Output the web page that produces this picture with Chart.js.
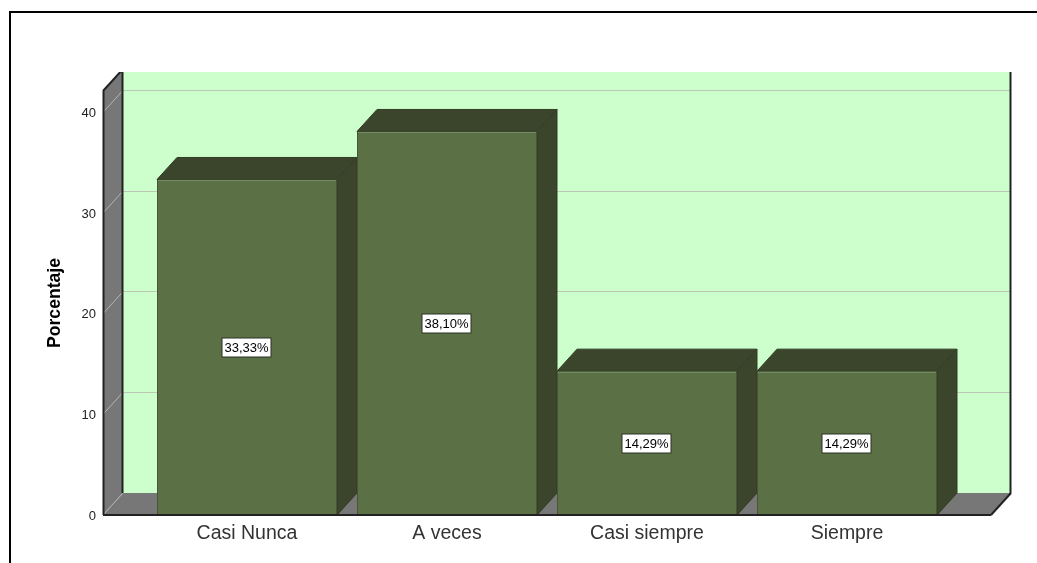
<!DOCTYPE html>
<html>
<head>
<meta charset="utf-8">
<style>html,body{margin:0;padding:0;background:#fff;overflow:hidden}canvas{display:block}</style>
<script src="https://cdn.jsdelivr.net/npm/chart.js@4"></script>
</head>
<body>
<canvas id="c" width="1037" height="563"></canvas>
<script>
const categories = ['Casi Nunca', 'A veces', 'Casi siempre', 'Siempre'];
const percentages = [33.33, 38.10, 14.29, 14.29];
const yTicks = [0, 10, 20, 30, 40];
const yAxisTitle = 'Porcentaje';

const FRONT = '#5c7046', DARK = '#3a452b', WALL = '#777777', BACK = '#ccffcc',
      GRID = '#bcc8b6', LINE = '#222222';
const DX = 20, DY = 22, PADX = 44, TOPCLIP = 72;
const FONT = '"Liberation Sans", Arial, sans-serif';

function poly(ctx, pts, fill, stroke, lw) {
  ctx.beginPath();
  pts.forEach((p, i) => i ? ctx.lineTo(p[0], p[1]) : ctx.moveTo(p[0], p[1]));
  ctx.closePath();
  if (fill) { ctx.fillStyle = fill; ctx.fill(); }
  if (stroke) { ctx.strokeStyle = stroke; ctx.lineWidth = lw || 1; ctx.stroke(); }
}
function seg(ctx, x1, y1, x2, y2, c, w) {
  ctx.beginPath(); ctx.moveTo(x1, y1); ctx.lineTo(x2, y2);
  ctx.strokeStyle = c; ctx.lineWidth = w; ctx.stroke();
}

const scene3d = {
  id: 'scene3d',
  beforeDraw(chart) {
    const ctx = chart.ctx;
    ctx.save();
    ctx.fillStyle = '#000';
    ctx.fillRect(9, 11, chart.width - 9, 2);
    ctx.fillRect(9, 11, 2, chart.height - 11);
    ctx.restore();
  },
  beforeDatasetsDraw(chart) {
    const ctx = chart.ctx, y = chart.scales.y, a = chart.chartArea;
    const L = a.left - PADX, R = a.right + PADX, B = y.getPixelForValue(0), T = a.top;
    ctx.save();
    ctx.beginPath(); ctx.rect(0, TOPCLIP, chart.width, chart.height - TOPCLIP); ctx.clip();
    ctx.fillStyle = BACK;
    ctx.fillRect(L + DX, T - DY, R - L, B - T);
    poly(ctx, [[L, B], [L + DX, B - DY], [R + DX, B - DY], [R, B]], WALL);
    poly(ctx, [[L, B], [L, T], [L + DX, T - DY], [L + DX, B - DY]], WALL);
    yTicks.forEach(v => {
      const py = y.getPixelForValue(v);
      const gy = Math.floor(py - DY) + 0.5;
      if (v > 0) seg(ctx, L + DX, gy, R + DX, gy, GRID, 1);
      seg(ctx, L, py, L + DX, py - DY, '#b5b5b5', 1);
    });
    seg(ctx, L + 0.5, T, L + 0.5, B, LINE, 2);
    seg(ctx, L, T, L + DX, T - DY, LINE, 2);
    seg(ctx, L + DX - 0.5, T - DY, L + DX - 0.5, B - DY, LINE, 2);
    seg(ctx, R + DX - 0.5, T - DY, R + DX - 0.5, B - DY, LINE, 2);
    seg(ctx, R, B, R + DX, B - DY, LINE, 2);
    chart.getDatasetMeta(0).data.forEach(bar => {
      const l = bar.x - bar.width / 2, r = bar.x + bar.width / 2, t = bar.y, b = bar.base;
      poly(ctx, [[l, t], [l + DX, t - DY], [r + DX, t - DY], [r, t]], DARK, '#333c26', 1);
      poly(ctx, [[r, t], [r + DX, t - DY], [r + DX, b - DY], [r, b]], DARK, '#333c26', 1);
    });
    ctx.restore();
  },
  afterDatasetsDraw(chart) {
    const ctx = chart.ctx, y = chart.scales.y, a = chart.chartArea;
    const B = y.getPixelForValue(0);
    ctx.save();
    seg(ctx, a.left - PADX, B, a.right + PADX, B, LINE, 2);
    ctx.font = '13px ' + FONT;
    ctx.textAlign = 'center';
    ctx.textBaseline = 'middle';
    chart.getDatasetMeta(0).data.forEach((bar, i) => {
      const txt = percentages[i].toFixed(2).replace('.', ',') + '%';
      const cy = Math.round((bar.y + bar.base) / 2) + 0.5, cx = Math.round(bar.x) - 0.5;
      const w = 49, h = 19;
      ctx.fillStyle = '#fff';
      ctx.fillRect(cx - w / 2, cy - h / 2, w, h);
      ctx.strokeStyle = '#2a3020'; ctx.lineWidth = 1;
      ctx.strokeRect(cx - w / 2, cy - h / 2, w, h);
      ctx.fillStyle = '#000';
      ctx.fillText(txt, cx, cy + 0.5);
    });
    ctx.restore();
  }
};

new Chart(document.getElementById('c'), {
  type: 'bar',
  data: {
    labels: categories,
    datasets: [{
      data: percentages,
      backgroundColor: FRONT,
      borderColor: '#46553a',
      borderWidth: 1,
      categoryPercentage: 1,
      barPercentage: 0.9
    }]
  },
  plugins: [scene3d],
  options: {
    responsive: false,
    animation: false,
    layout: { padding: { left: 0, right: 90, top: 91, bottom: 0 } },
    plugins: { legend: { display: false }, tooltip: { enabled: false }, title: { display: false } },
    scales: {
      x: {
        grid: { display: false, drawTicks: false },
        border: { display: false },
        afterFit(s) { s.height = 48; },
        ticks: { color: '#333', padding: 7, maxRotation: 0, font: { family: FONT, size: 19.5 } }
      },
      y: {
        min: 0,
        max: 42.12,
        grid: { display: false, drawTicks: false },
        border: { display: false },
        afterFit(s) { s.width = 147; s.paddingTop = 0; s.paddingBottom = 0; },
        afterBuildTicks(s) { s.ticks = yTicks.map(v => ({ value: v })); },
        ticks: { color: '#222', padding: 51, labelOffset: 1, font: { family: FONT, size: 13 } },
        title: {
          display: true, text: yAxisTitle, color: '#000',
          padding: { top: 45, bottom: 0 },
          font: { family: FONT, size: 17.6, weight: 'bold' }
        }
      }
    }
  }
});
</script>
</body>
</html>
